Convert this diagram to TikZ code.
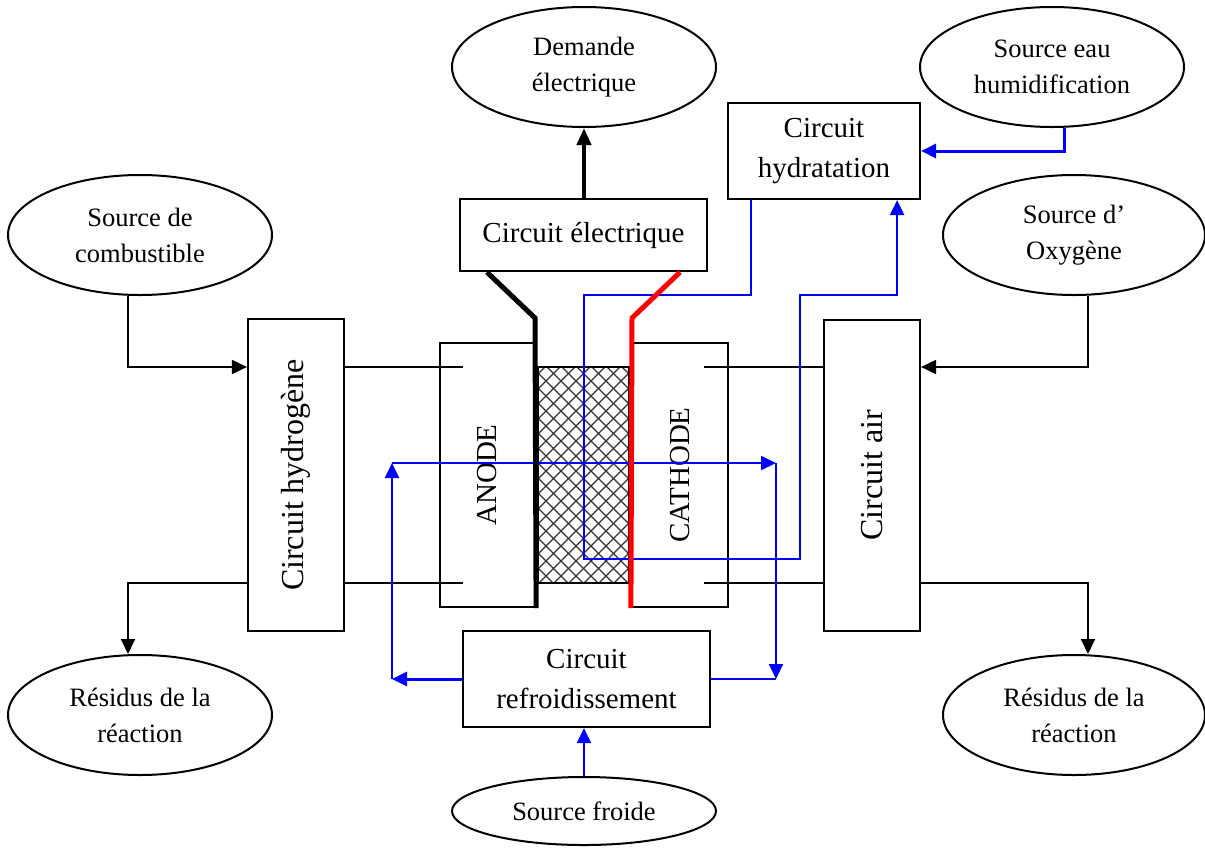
\documentclass[tikz,border=0pt]{standalone}
\usepackage{fontspec}
\usepackage{graphicx}
\setmainfont{Liberation Serif}
\usetikzlibrary{shapes.geometric,arrows.meta,calc}
\definecolor{bblue}{RGB}{0,0,255}
\definecolor{rred}{RGB}{255,0,0}
\tikzset{
  boxn/.style={draw,line width=2.2pt,rectangle,inner sep=0pt,align=center,font=\fontsize{29}{40}\selectfont},
  elln/.style={draw,line width=2pt,ellipse,inner sep=0pt,align=center,font=\fontsize{26.5}{36}\selectfont},
  ln/.style={line width=2pt,black},
  bl/.style={line width=2pt,bblue},
  blthick/.style={line width=3pt,bblue},
  arr/.style={-{Triangle[length=15pt,width=14pt]}},
  wire/.style={line width=5pt},
  hatch/.style={line width=1.3pt,black!80}
}
\begin{document}
\begin{tikzpicture}[x=1pt,y=-1pt]
\useasboundingbox (0,0) rectangle (1205,847);

% membrane hatch
\begin{scope}
\clip (538,367) rectangle (629,583);
\foreach \x in {307,322,...,652} \draw[hatch] (\x,367) -- ++(216,216);
\foreach \x in {515,530,...,860} \draw[hatch] (\x,367) -- ++(-216,216);
\end{scope}
\draw[line width=1.5pt] (538,367) rectangle (629,583);

% ellipses
\node[elln,minimum width=264,minimum height=120] (dem) at (584,67) {Demande\\électrique};
\node[elln,minimum width=264,minimum height=120] (eau) at (1052,67) {Source eau\\humidification};
\node[elln,minimum width=264,minimum height=120] (comb) at (140,235) {Source de\\combustible};
\node[elln,minimum width=262,minimum height=120] (oxy) at (1074,235) {Source d’\\Oxygène};
\node[elln,minimum width=264,minimum height=120] (res1) at (140,715) {Résidus de la\\réaction};
\node[elln,minimum width=262,minimum height=120] (res2) at (1074,715) {Résidus de la\\réaction};
\node[elln,minimum width=264,minimum height=68] (froide) at (584,811) {Source froide};

% boxes
\node[boxn,minimum width=247,minimum height=72] (elec) at (583.5,235) {Circuit électrique};
\node[boxn,minimum width=192,minimum height=96] (hyd) at (824,151) {Circuit\\hydratation};
\node[boxn,minimum width=96,minimum height=312] (h2) at (296,475) {\fontsize{32}{40}\selectfont\rotatebox{90}{Circuit hydrogène}};
\node[boxn,minimum width=96,minimum height=311] (air) at (872,475.5) {\fontsize{32}{40}\selectfont\rotatebox{90}{Circuit air}};
\node[boxn,minimum width=95,minimum height=264] (anode) at (487.5,475) {\rotatebox{90}{ANODE}};
\node[boxn,minimum width=96,minimum height=264] (cathode) at (680,475) {\rotatebox{90}{CATHODE}};
\node[boxn,minimum width=247,minimum height=96] (cool) at (586.5,679) {Circuit\\refroidissement};

\coordinate (yin) at (0,367);
\coordinate (yout) at (0,583);

% black connectors
\draw[ln,arr] ($(comb.south)+(-12,0)$) |- (h2.west |- yin);
\draw[ln,arr] (h2.west |- yout) -| ($(res1.north)+(-12,0)$);
\draw[ln] (h2.east |- yin) -- ($(anode.west |- yin)+(24,0)$);
\draw[ln] (h2.east |- yout) -- ($(anode.west |- yout)+(24,0)$);
\draw[ln] ($(cathode.east |- yin)+(-25,0)$) -- (air.west |- yin);
\draw[ln] ($(cathode.east |- yout)+(-25,0)$) -- (air.west |- yout);
\draw[ln,arr] ($(oxy.south)+(14,0)$) |- (air.east |- yin);
\draw[ln,arr] (air.east |- yout) -| ($(res2.north)+(14,0)$);
\draw[line width=4pt,-{Triangle[length=17pt,width=14pt]}] (dem.south |- elec.north) -- (dem.south);

% blue connectors
\draw[blthick,arr] ($(eau.south)+(12,0)$) |- (hyd.east);
\coordinate (hr) at ($(hyd.south east)+(-24,0)$);
\draw[bl,arr] ($(hyd.south west)+(24,0)$) |- (584,295) |- (800,559) |- (hr |- 0,295) -- (hr);
\coordinate (cl) at (392,463);
\coordinate (cr) at (776,463);
\draw[blthick,arr] (cool.west) -- (cool.west -| cl);
\draw[bl,arr] (cool.west -| cl) -- (cl);
\draw[bl,arr] (cl) -- (cr);
\draw[bl,arr] (cr) -- (cool.east -| cr);
\draw[bl] (cool.east -| cr) -- (cool.east);
\draw[bl,arr] (froide.north) -- (cool.south -| froide.north);

% electrodes wires
\draw[wire] ($(elec.south west)+(28,0)$) -- (535,318) -- (anode.south east);
\draw[wire,rred] ($(elec.south east)+(-28,0)$) -- (632,318) -- (cathode.south west);
\end{tikzpicture}
\end{document}
